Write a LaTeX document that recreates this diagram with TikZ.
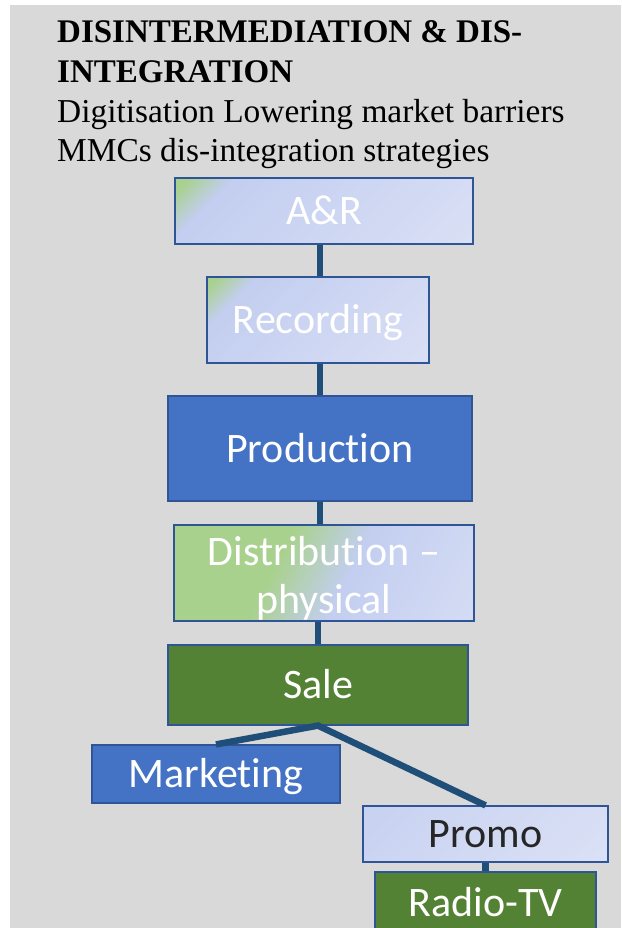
\documentclass[tikz,border=0pt]{standalone}
\usepackage{fontspec}
\setmainfont{Liberation Serif}
\newfontfamily\boxfamily[Ligatures=NoCommon,Contextuals=NoAlternate]{Carlito}

\definecolor{panel}{HTML}{D9D9D9}
\definecolor{edgeblue}{HTML}{2F5597}
\definecolor{linkblue}{HTML}{1F4E79}
\definecolor{deepblue}{HTML}{4472C4}
\definecolor{leafgreen}{HTML}{548235}
\definecolor{softgreen}{HTML}{A9D18E}
\definecolor{paleblue}{HTML}{C3CEF0}
\definecolor{paleblueB}{HTML}{DFE4F6}
\definecolor{inkgray}{HTML}{262626}

% pale fills running from the top-left corner towards the bottom-right corner
\pgfdeclarehorizontalshading{cornerglow}{100bp}{color(0bp)=(softgreen); color(17bp)=(softgreen); color(26bp)=(paleblue); color(100bp)=(paleblueB)}
\pgfdeclarehorizontalshading{greenwash}{100bp}{color(0bp)=(softgreen); color(40bp)=(softgreen); color(55bp)=(paleblue); color(100bp)=(paleblueB)}
\pgfdeclarehorizontalshading{plainpale}{100bp}{color(0bp)=(paleblue); color(100bp)=(paleblueB)}

\pgfdeclarelayer{bg}
\pgfsetlayers{bg,main}

\newcommand\hdrsize{\fontsize{33}{40}\selectfont}
\newcommand\hdrsizeB{\fontsize{33.4}{40}\selectfont}
\newcommand\boxsize{\fontsize{42}{48}\selectfont}

\begin{document}
\begin{tikzpicture}[x=1pt,y=-1pt,
  hdr/.style={anchor=base west, inner sep=0pt, font=\hdrsizeB},
  hdrbold/.style={anchor=base west, inner sep=0pt, font=\hdrsize\bfseries},
  box/.style={rectangle, draw=edgeblue, line width=1.2pt, inner sep=0pt,
    font=\boxfamily\boxsize, text=white, text height=27pt, text depth=0pt},
  shaded/.style={box, shade, shading=#1, shading angle=-45},
  solid/.style={box, fill=#1},
  link/.style={draw=linkblue, line width=6.5pt}]

\useasboundingbox (0,0) rectangle (621,928);
\begin{pgfonlayer}{bg}
  \fill[white] (0,0) rectangle (621,928);
  \fill[panel] (10,5) rectangle (621,928);
\end{pgfonlayer}

% heading
\node[hdrbold] (h1) at (57,43) {DISINTERMEDIATION \& DIS-};
\node[hdrbold] (h2) at (57,83) {INTEGRATION};
\node[hdr] (h3) at (57,123) {Digitisation Lowering market barriers};
\node[hdr] (h4) at (57,162) {MMCs dis-integration strategies};

\begin{scope}
\clip (0,0) rectangle (621,928);

% value chain
\node[shaded=cornerglow, minimum width=298pt, minimum height=66pt] (ar) at (324,211) {A\&R};
\node[shaded=cornerglow, minimum width=222pt, minimum height=86pt] (rec) at (318,320) {Recording};
\node[solid=deepblue, minimum width=304pt, minimum height=105pt] (prod) at (320,448.5) {Production};
\node[shaded=greenwash, shading angle=-27, minimum width=300pt, minimum height=96pt] (dist) at (324,573)
  {\smash{\begin{tabular}{@{}c@{}}Distribution –\\physical\end{tabular}}};
\node[solid=leafgreen, minimum width=300pt, minimum height=80pt] (sale) at (318,685) {Sale};
\node[solid=deepblue, minimum width=248pt, minimum height=58pt] (mkt) at (216,774) {Marketing};
\node[shaded=plainpale, text=inkgray, minimum width=245pt, minimum height=56pt] (promo) at (485.5,834) {Promo};
\node[solid=leafgreen, minimum width=221pt, minimum height=62pt] (radio) at (485.5,903) {Radio-TV};
\end{scope}

% connectors
\draw[link] (ar.south -| prod.north) -- (rec.north -| prod.north);
\draw[link] (rec.south -| prod.north) -- (prod.north);
\draw[link] (prod.south) -- (dist.north -| prod.south);
\draw[link] (dist.south -| sale.north) -- (sale.north);
\draw[link] (mkt.north) -- (sale.south) -- (promo.north);
\draw[link] (promo.south -| radio.north) -- (radio.north);
\end{tikzpicture}
\end{document}
